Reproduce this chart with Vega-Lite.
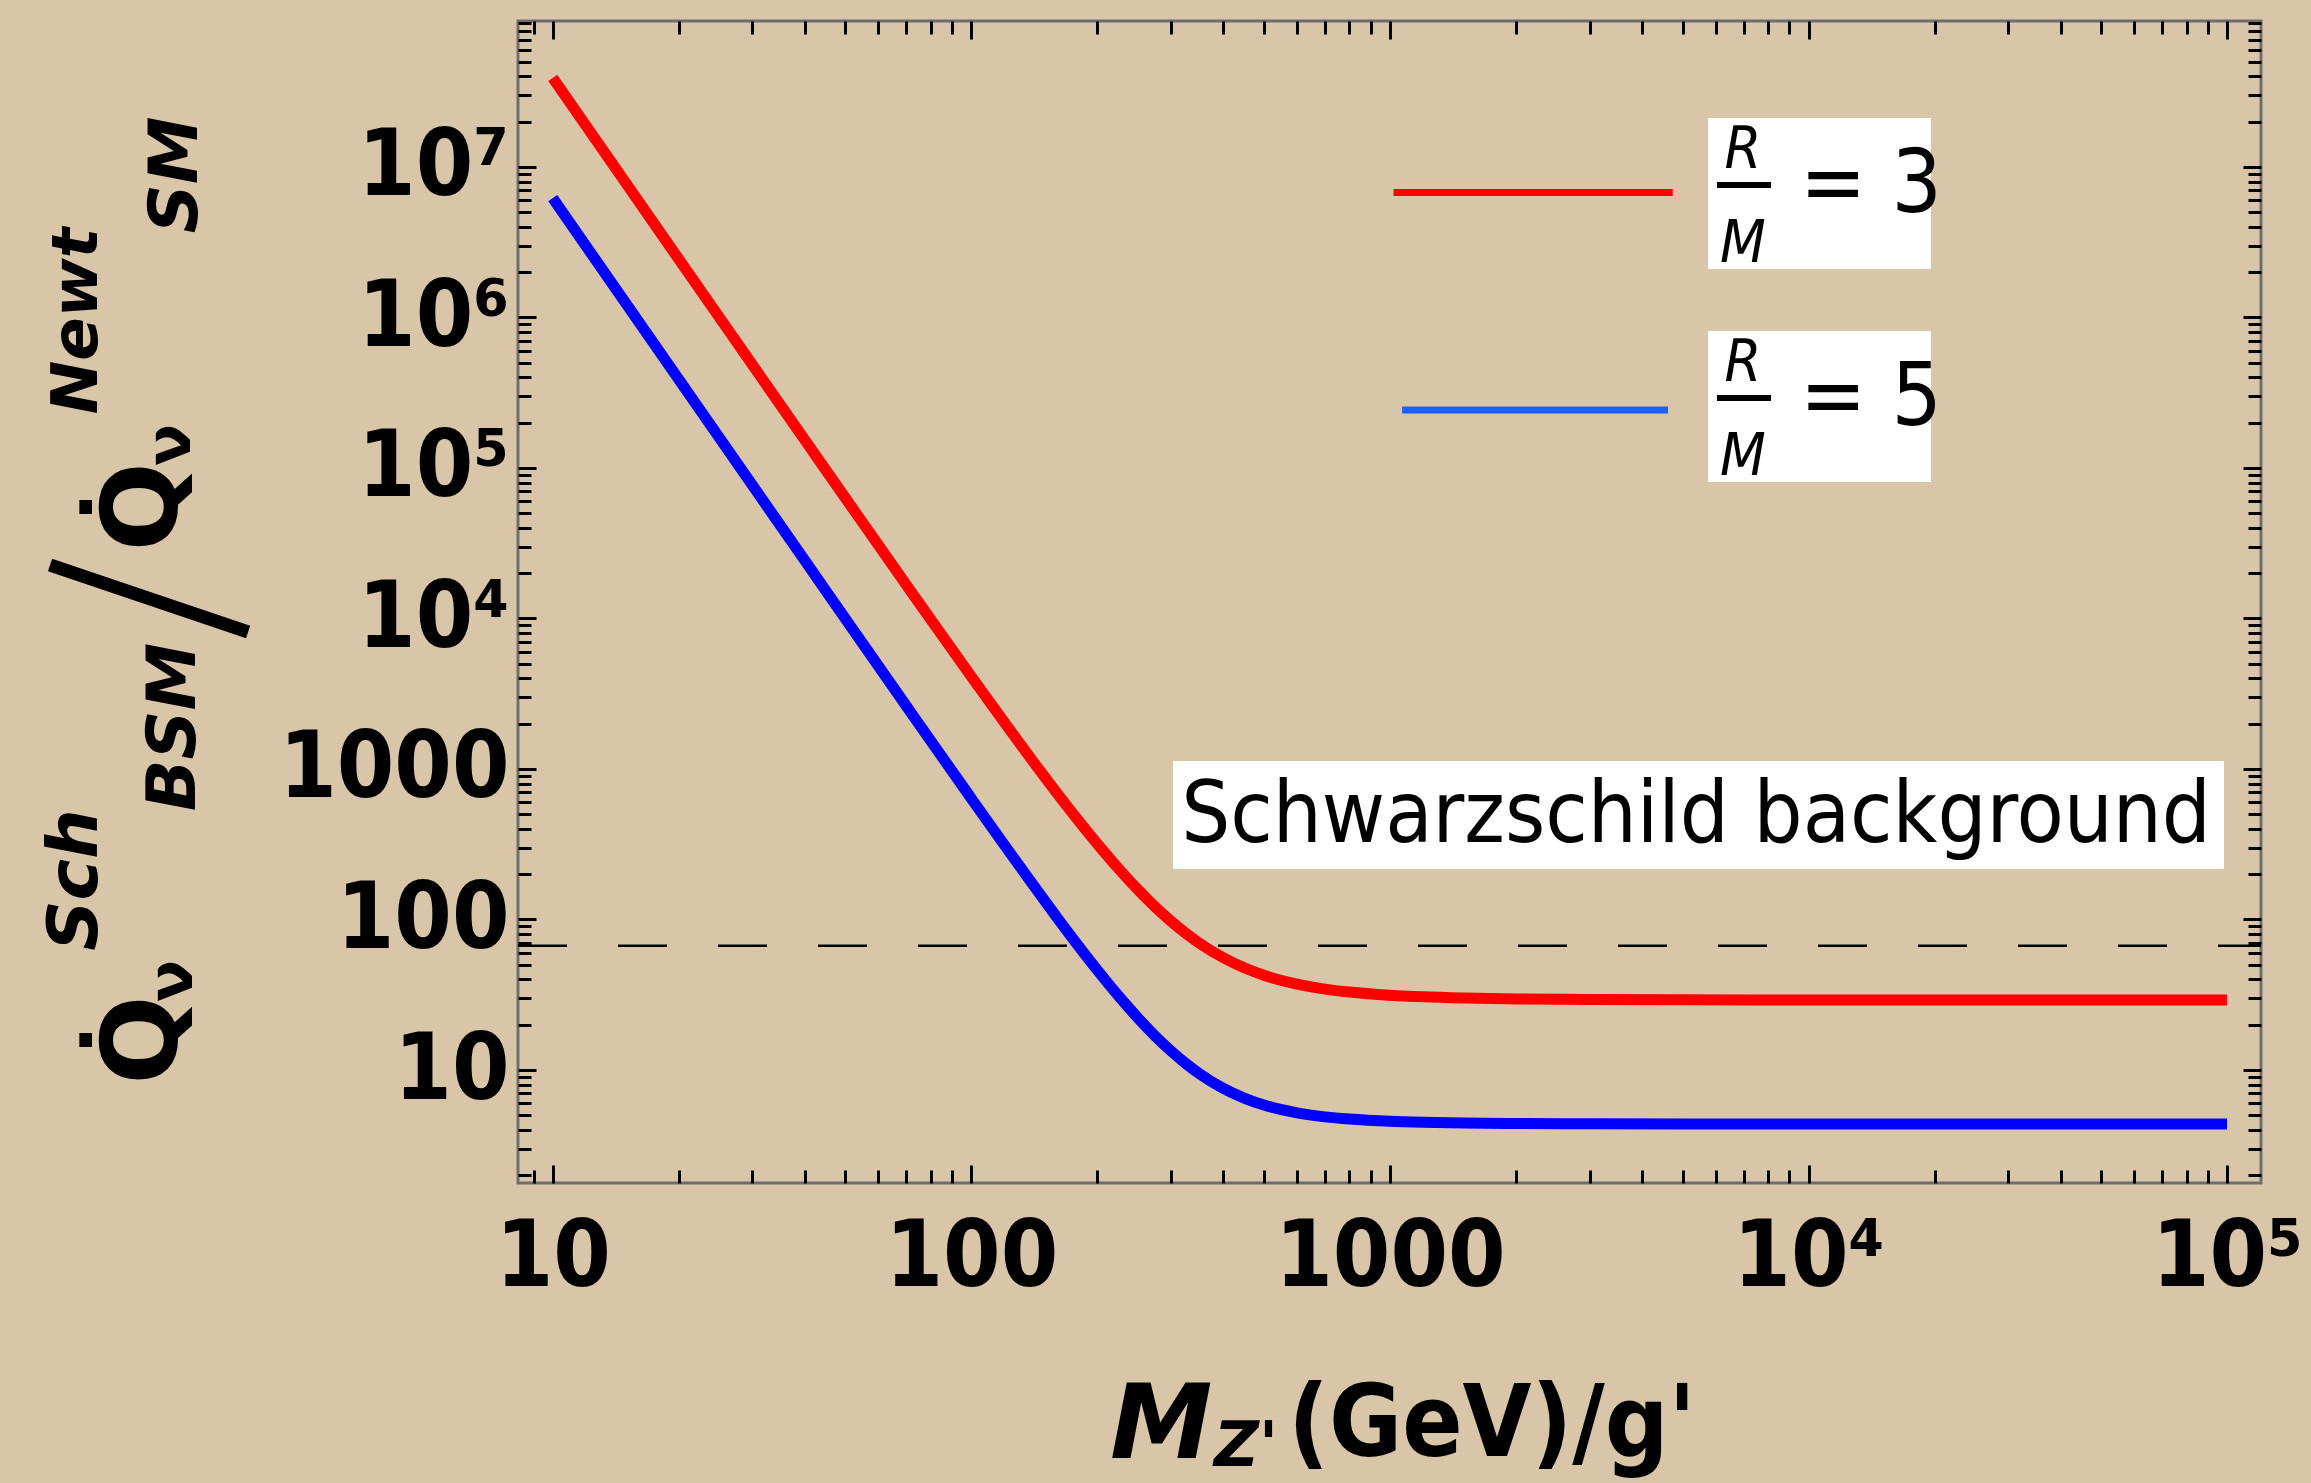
{
  "$schema": "https://vega.github.io/schema/vega-lite/v6.json",
  "width": 1743,
  "height": 1162,
  "autosize": {"type": "none"},
  "padding": {"left": 518, "top": 21, "right": 50, "bottom": 300},
  "background": "#d9c6a9",
  "config": {
    "view": {"stroke": "#6e6e6e", "strokeWidth": 3},
    "axis": {
      "grid": false,
      "domain": false,
      "tickColor": "#000000",
      "tickWidth": 3,
      "labelColor": "#000000",
      "labelFont": "DejaVu Sans Condensed, DejaVu Sans",
      "labelFontWeight": "bold",
      "labelFontSize": 92,
      "labelLimit": 1000,
      "labelOverlap": false,
      "labelBound": false,
      "labelFlush": false
    }
  },
  "data": {"values": [{}]},
  "datasets": {
    "rm3": [
      {"M": 10, "Q": 39020000}, {"M": 20, "Q": 2442029}, {"M": 40, "Q": 153498}, {"M": 70, "Q": 16640},
      {"M": 100, "Q": 4109}, {"M": 120, "Q": 2035}, {"M": 140, "Q": 1136}, {"M": 160, "Q": 694.6},
      {"M": 180, "Q": 456.3}, {"M": 200, "Q": 318.0}, {"M": 225, "Q": 216.9}, {"M": 250, "Q": 157.8},
      {"M": 275, "Q": 121.2}, {"M": 300, "Q": 97.35}, {"M": 325, "Q": 81.2}, {"M": 350, "Q": 69.88},
      {"M": 400, "Q": 55.68}, {"M": 450, "Q": 47.6}, {"M": 500, "Q": 42.64}, {"M": 600, "Q": 37.21},
      {"M": 700, "Q": 34.49}, {"M": 800, "Q": 32.96}, {"M": 1000, "Q": 31.39}, {"M": 1200, "Q": 30.64},
      {"M": 1500, "Q": 30.08}, {"M": 2000, "Q": 29.67}, {"M": 3000, "Q": 29.4}, {"M": 5000, "Q": 29.27},
      {"M": 10000, "Q": 29.22}, {"M": 100000, "Q": 29.2}
    ],
    "rm5": [
      {"M": 10, "Q": 6201204}, {"M": 20, "Q": 387804}, {"M": 40, "Q": 24298}, {"M": 70, "Q": 2611},
      {"M": 100, "Q": 636.4}, {"M": 120, "Q": 311.7}, {"M": 140, "Q": 171.9}, {"M": 160, "Q": 103.67},
      {"M": 180, "Q": 67.14}, {"M": 200, "Q": 46.13}, {"M": 225, "Q": 30.94}, {"M": 250, "Q": 22.17},
      {"M": 275, "Q": 16.81}, {"M": 300, "Q": 13.37}, {"M": 325, "Q": 11.07}, {"M": 350, "Q": 9.49},
      {"M": 400, "Q": 7.55}, {"M": 450, "Q": 6.485}, {"M": 500, "Q": 5.85}, {"M": 600, "Q": 5.19},
      {"M": 700, "Q": 4.883}, {"M": 800, "Q": 4.72}, {"M": 1000, "Q": 4.56}, {"M": 1200, "Q": 4.493},
      {"M": 1500, "Q": 4.45}, {"M": 2000, "Q": 4.41}, {"M": 3000, "Q": 4.39}, {"M": 5000, "Q": 4.385},
      {"M": 10000, "Q": 4.381}, {"M": 100000, "Q": 4.38}
    ],
    "threshold": [{"Q": 67}]
  },
  "layer": [
    {
      "data": {"name": "rm3"},
      "mark": {"type": "line", "color": "#ff0000", "strokeWidth": 11, "interpolate": "monotone"},
      "encoding": {
        "x": {
          "field": "M", "type": "quantitative",
          "scale": {"type": "log", "domain": [8.26, 120500], "nice": false},
          "axis": {
            "orient": "bottom", "title": null, "ticks": false,
            "values": [10, 100, 1000, 10000, 100000],
            "labelPadding": 29,
            "labelExpr": "datum.value == 10 ? '10' : datum.value == 100 ? '100' : datum.value == 1000 ? '1000' : datum.value == 10000 ? '10\u2074' : '10\u2075'"
          }
        },
        "y": {
          "field": "Q", "type": "quantitative",
          "scale": {"type": "log", "domain": [1.775, 93300000], "nice": false},
          "axis": {
            "orient": "left", "title": null, "ticks": false,
            "values": [10, 100, 1000, 10000, 100000, 1000000, 10000000],
            "labelPadding": 9,
            "labelExpr": "datum.value == 10 ? '10' : datum.value == 100 ? '100' : datum.value == 1000 ? '1000' : datum.value == 10000 ? '10\u2074' : datum.value == 100000 ? '10\u2075' : datum.value == 1000000 ? '10\u2076' : '10\u2077'"
          }
        }
      }
    },
    {
      "data": {"name": "rm5"},
      "mark": {"type": "line", "color": "#0000ff", "strokeWidth": 11, "interpolate": "monotone"},
      "encoding": {
        "x": {
          "field": "M", "type": "quantitative",
          "scale": {"type": "log"},
          "axis": {"orient": "bottom", "title": null, "labels": false, "tickSize": -18,
                   "values": [10, 100, 1000, 10000, 100000]}
        },
        "y": {
          "field": "Q", "type": "quantitative",
          "scale": {"type": "log"},
          "axis": {"orient": "left", "title": null, "labels": false, "tickSize": -18,
                   "values": [10, 100, 1000, 10000, 100000, 1000000, 10000000]}
        }
      }
    },
    {
      "data": {"name": "threshold"},
      "mark": {"type": "rule", "color": "#000000", "strokeWidth": 2.5, "strokeDash": [49, 51]},
      "encoding": {
        "x": {
          "datum": 8.26, "type": "quantitative",
          "axis": {"orient": "bottom", "title": null, "labels": false, "tickSize": -13,
                   "values": [9, 20, 30, 40, 50, 60, 70, 80, 90, 200, 300, 400, 500, 600, 700, 800, 900, 2000, 3000, 4000, 5000, 6000, 7000, 8000, 9000, 20000, 30000, 40000, 50000, 60000, 70000, 80000, 90000]}
        },
        "x2": {"datum": 120500},
        "y": {
          "field": "Q", "type": "quantitative",
          "axis": {"orient": "left", "title": null, "labels": false, "tickSize": -13,
                   "values": [2, 3, 4, 5, 6, 7, 8, 9, 20, 30, 40, 50, 60, 70, 80, 90, 200, 300, 400, 500, 600, 700, 800, 900, 2000, 3000, 4000, 5000, 6000, 7000, 8000, 9000, 20000, 30000, 40000, 50000, 60000, 70000, 80000, 90000, 200000, 300000, 400000, 500000, 600000, 700000, 800000, 900000, 2000000, 3000000, 4000000, 5000000, 6000000, 7000000, 8000000, 9000000, 20000000, 30000000, 40000000, 50000000, 60000000, 70000000, 80000000, 90000000]}
        }
      }
    },
    {
      "mark": {"type": "rect", "color": "#ffffff"},
      "encoding": {
        "x": {
          "datum": 5754, "type": "quantitative",
          "axis": {"orient": "top", "title": null, "labels": false, "tickSize": -18,
                   "values": [10, 100, 1000, 10000, 100000]}
        },
        "x2": {"datum": 19620},
        "y": {
          "datum": 2101000, "type": "quantitative",
          "axis": {"orient": "right", "title": null, "labels": false, "tickSize": -18,
                   "values": [10, 100, 1000, 10000, 100000, 1000000, 10000000]}
        },
        "y2": {"datum": 21170000}
      }
    },
    {
      "mark": {"type": "rect", "color": "#ffffff"},
      "encoding": {
        "x": {
          "datum": 5754, "type": "quantitative",
          "axis": {"orient": "top", "title": null, "labels": false, "tickSize": -13,
                   "values": [9, 20, 30, 40, 50, 60, 70, 80, 90, 200, 300, 400, 500, 600, 700, 800, 900, 2000, 3000, 4000, 5000, 6000, 7000, 8000, 9000, 20000, 30000, 40000, 50000, 60000, 70000, 80000, 90000]}
        },
        "x2": {"datum": 19620},
        "y": {
          "datum": 80720, "type": "quantitative",
          "axis": {"orient": "right", "title": null, "labels": false, "tickSize": -13,
                   "values": [2, 3, 4, 5, 6, 7, 8, 9, 20, 30, 40, 50, 60, 70, 80, 90, 200, 300, 400, 500, 600, 700, 800, 900, 2000, 3000, 4000, 5000, 6000, 7000, 8000, 9000, 20000, 30000, 40000, 50000, 60000, 70000, 80000, 90000, 200000, 300000, 400000, 500000, 600000, 700000, 800000, 900000, 2000000, 3000000, 4000000, 5000000, 6000000, 7000000, 8000000, 9000000, 20000000, 30000000, 40000000, 50000000, 60000000, 70000000, 80000000, 90000000]}
        },
        "y2": {"datum": 813500}
      }
    },
    {
      "mark": {"type": "rect", "color": "#ffffff"},
      "encoding": {
        "x": {"datum": 303.2, "type": "quantitative", "axis": null},
        "x2": {"datum": 98310},
        "y": {"datum": 216.5, "type": "quantitative", "axis": null},
        "y2": {"datum": 1130}
      }
    },
    {
      "mark": {"type": "text", "text": "Schwarzschild background", "font": "DejaVu Sans Condensed, DejaVu Sans", "fontSize": 86, "align": "center", "baseline": "alphabetic", "color": "#000000"},
      "encoding": {
        "x": {"datum": 5387, "type": "quantitative", "axis": null},
        "y": {"datum": 324.8, "type": "quantitative", "axis": null}
      }
    },
    {
      "mark": {"type": "rule", "color": "#ff0000", "strokeWidth": 7},
      "encoding": {
        "x": {"datum": 1020, "type": "quantitative", "axis": null},
        "x2": {"datum": 4738},
        "y": {"datum": 6761000, "type": "quantitative", "axis": null}
      }
    },
    {
      "mark": {"type": "rule", "color": "#1a62ff", "strokeWidth": 7},
      "encoding": {
        "x": {"datum": 1069, "type": "quantitative", "axis": null},
        "x2": {"datum": 4617},
        "y": {"datum": 242900, "type": "quantitative", "axis": null}
      }
    },
    {
      "mark": {"type": "text", "text": "R", "font": "DejaVu Sans Condensed, DejaVu Sans", "fontStyle": "italic", "fontSize": 59, "align": "center", "baseline": "alphabetic", "color": "#000000"},
      "encoding": {
        "x": {"datum": 6973, "type": "quantitative", "axis": null},
        "y": {"datum": 9849000, "type": "quantitative", "axis": null}
      }
    },
    {
      "mark": {"type": "rule", "color": "#000000", "strokeWidth": 6},
      "encoding": {
        "x": {"datum": 6044, "type": "quantitative", "axis": null},
        "x2": {"datum": 8137},
        "y": {"datum": 7592000, "type": "quantitative", "axis": null}
      }
    },
    {
      "mark": {"type": "text", "text": "M", "font": "DejaVu Sans Condensed, DejaVu Sans", "fontStyle": "italic", "fontSize": 59, "align": "center", "baseline": "alphabetic", "color": "#000000"},
      "encoding": {
        "x": {"datum": 6973, "type": "quantitative", "axis": null},
        "y": {"datum": 2338000, "type": "quantitative", "axis": null}
      }
    },
    {
      "mark": {"type": "text", "text": "= 3", "font": "DejaVu Sans Condensed, DejaVu Sans", "fontSize": 88, "align": "left", "baseline": "alphabetic", "color": "#000000"},
      "encoding": {
        "x": {"datum": 9544, "type": "quantitative", "axis": null},
        "y": {"datum": 5023000, "type": "quantitative", "axis": null}
      }
    },
    {
      "mark": {"type": "text", "text": "R", "font": "DejaVu Sans Condensed, DejaVu Sans", "fontStyle": "italic", "fontSize": 59, "align": "center", "baseline": "alphabetic", "color": "#000000"},
      "encoding": {
        "x": {"datum": 6973, "type": "quantitative", "axis": null},
        "y": {"datum": 378500, "type": "quantitative", "axis": null}
      }
    },
    {
      "mark": {"type": "rule", "color": "#000000", "strokeWidth": 6},
      "encoding": {
        "x": {"datum": 6044, "type": "quantitative", "axis": null},
        "x2": {"datum": 8137},
        "y": {"datum": 291900, "type": "quantitative", "axis": null}
      }
    },
    {
      "mark": {"type": "text", "text": "M", "font": "DejaVu Sans Condensed, DejaVu Sans", "fontStyle": "italic", "fontSize": 59, "align": "center", "baseline": "alphabetic", "color": "#000000"},
      "encoding": {
        "x": {"datum": 6973, "type": "quantitative", "axis": null},
        "y": {"datum": 89850, "type": "quantitative", "axis": null}
      }
    },
    {
      "mark": {"type": "text", "text": "= 5", "font": "DejaVu Sans Condensed, DejaVu Sans", "fontSize": 88, "align": "left", "baseline": "alphabetic", "color": "#000000"},
      "encoding": {
        "x": {"datum": 9544, "type": "quantitative", "axis": null},
        "y": {"datum": 193100, "type": "quantitative", "axis": null}
      }
    },
    {
      "mark": {"type": "text", "text": "M", "font": "DejaVu Sans", "fontWeight": "bold", "fontStyle": "italic", "fontSize": 103, "align": "left", "baseline": "alphabetic", "color": "#000000"},
      "encoding": {
        "x": {"datum": 214.5, "type": "quantitative", "axis": null},
        "y": {"datum": 0.02642, "type": "quantitative", "axis": null}
      }
    },
    {
      "mark": {"type": "text", "text": "Z'", "font": "DejaVu Sans", "fontWeight": "bold", "fontStyle": "italic", "fontSize": 62, "align": "left", "baseline": "alphabetic", "color": "#000000"},
      "encoding": {
        "x": {"datum": 380, "type": "quantitative", "axis": null},
        "y": {"datum": 0.02338, "type": "quantitative", "axis": null}
      }
    },
    {
      "mark": {"type": "text", "text": "(GeV)/g'", "font": "DejaVu Sans Condensed, DejaVu Sans", "fontWeight": "bold", "fontSize": 99, "align": "left", "baseline": "alphabetic", "color": "#000000"},
      "encoding": {
        "x": {"datum": 572, "type": "quantitative", "axis": null},
        "y": {"datum": 0.02724, "type": "quantitative", "axis": null}
      }
    },
    {
      "mark": {"type": "text", "text": "Q\u0307", "font": "DejaVu Sans", "fontWeight": "bold", "fontSize": 105, "angle": 270, "align": "center", "baseline": "alphabetic", "color": "#000000"},
      "encoding": {
        "x": {"datum": 1.266, "type": "quantitative", "axis": null},
        "y": {"datum": 15.82, "type": "quantitative", "axis": null}
      }
    },
    {
      "mark": {"type": "text", "text": "\u03bd", "font": "DejaVu Sans", "fontWeight": "bold", "fontSize": 62, "angle": 270, "align": "center", "baseline": "alphabetic", "color": "#000000"},
      "encoding": {
        "x": {"datum": 1.375, "type": "quantitative", "axis": null},
        "y": {"datum": 39.03, "type": "quantitative", "axis": null}
      }
    },
    {
      "mark": {"type": "text", "text": "Sch", "font": "DejaVu Sans", "fontWeight": "bold", "fontStyle": "italic", "fontSize": 70, "angle": 270, "align": "center", "baseline": "alphabetic", "color": "#000000"},
      "encoding": {
        "x": {"datum": 0.8157, "type": "quantitative", "axis": null},
        "y": {"datum": 183.0, "type": "quantitative", "axis": null}
      }
    },
    {
      "mark": {"type": "text", "text": "BSM", "font": "DejaVu Sans", "fontWeight": "bold", "fontStyle": "italic", "fontSize": 68, "angle": 270, "align": "center", "baseline": "alphabetic", "color": "#000000"},
      "encoding": {
        "x": {"datum": 1.398, "type": "quantitative", "axis": null},
        "y": {"datum": 1901, "type": "quantitative", "axis": null}
      }
    },
    {
      "mark": {"type": "rule", "color": "#000000", "strokeWidth": 13},
      "encoding": {
        "x": {"datum": 0.6296, "type": "quantitative", "axis": null},
        "y": {"datum": 22670, "type": "quantitative", "axis": null},
        "x2": {"datum": 1.872},
        "y2": {"datum": 8135}
      }
    },
    {
      "mark": {"type": "text", "text": "Q\u0307", "font": "DejaVu Sans", "fontWeight": "bold", "fontSize": 105, "angle": 270, "align": "center", "baseline": "alphabetic", "color": "#000000"},
      "encoding": {
        "x": {"datum": 1.266, "type": "quantitative", "axis": null},
        "y": {"datum": 55070, "type": "quantitative", "axis": null}
      }
    },
    {
      "mark": {"type": "text", "text": "\u03bd", "font": "DejaVu Sans", "fontWeight": "bold", "fontSize": 62, "angle": 270, "align": "center", "baseline": "alphabetic", "color": "#000000"},
      "encoding": {
        "x": {"datum": 1.36, "type": "quantitative", "axis": null},
        "y": {"datum": 142200, "type": "quantitative", "axis": null}
      }
    },
    {
      "mark": {"type": "text", "text": "Newt", "font": "DejaVu Sans", "fontWeight": "bold", "fontStyle": "italic", "fontSize": 64, "angle": 270, "align": "center", "baseline": "alphabetic", "color": "#000000"},
      "encoding": {
        "x": {"datum": 0.8157, "type": "quantitative", "axis": null},
        "y": {"datum": 947800, "type": "quantitative", "axis": null}
      }
    },
    {
      "mark": {"type": "text", "text": "SM", "font": "DejaVu Sans", "fontWeight": "bold", "fontStyle": "italic", "fontSize": 68, "angle": 270, "align": "center", "baseline": "alphabetic", "color": "#000000"},
      "encoding": {
        "x": {"datum": 1.413, "type": "quantitative", "axis": null},
        "y": {"datum": 8847000, "type": "quantitative", "axis": null}
      }
    }
  ],
  "resolve": {"axis": {"x": "independent", "y": "independent"}}
}
